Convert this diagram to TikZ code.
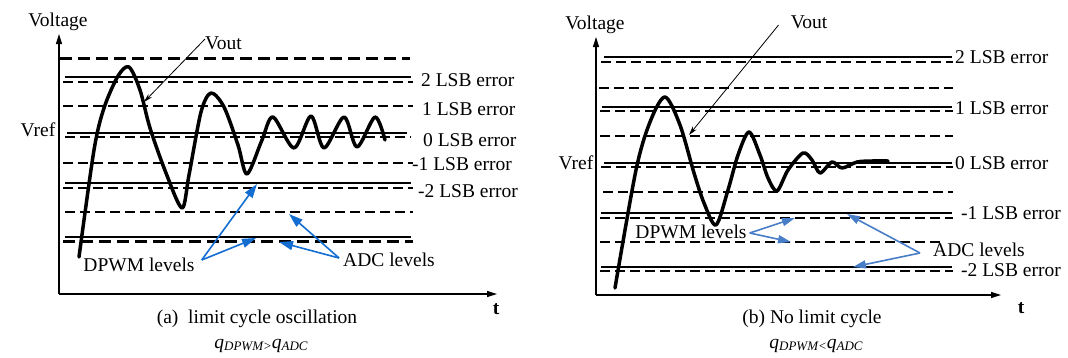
\documentclass[tikz,border=0pt]{standalone}
\usepackage{fontspec}
\setmainfont{Liberation Serif}
\usetikzlibrary{arrows.meta}
\definecolor{blueA}{RGB}{20,110,210}
\definecolor{blueB}{RGB}{72,125,200}
\tikzset{
  lbl/.style={inner sep=0pt, font=\fontsize{19.5}{22}\selectfont},
  sol/.style={line width=1.5pt},
  dsh/.style={line width=2pt, dash pattern=on 10pt off 5pt},
  dshthick/.style={line width=3pt, dash pattern=on 12pt off 6pt},
  axisline/.style={line width=1.2pt, -{Triangle[length=10pt,width=6pt]}},
  curve/.style={line width=3.5pt, line join=round, line cap=round},
  ptr/.style={line width=0.8pt, -{Stealth[length=9pt,width=5pt]}},
  barrowA/.style={blueA, line width=1.6pt, -{Triangle[length=14pt,width=9pt]}},
  barrowB/.style={blueB, line width=1.6pt, -{Triangle[length=13pt,width=8pt]}},
}
\begin{document}
\begin{tikzpicture}[x=1pt,y=-1pt]
\useasboundingbox (0,0) rectangle (1068,357);
% ================= LEFT PANEL =================
\coordinate (oA) at (59,294);
\coordinate (yA) at (59,34);
\coordinate (xA) at (497,294);
\draw[axisline] (oA) -- (yA);
\draw[axisline] (oA) -- (xA);
\node[lbl] (voltA) at (58,22) {Voltage};
\node[lbl, font=\fontsize{19.5}{22}\selectfont\bfseries] (tA) at (496,309) {t};
\node[lbl] (vrefA) at (38,130) {Vref};
% levels
\draw[dshthick] (60,58) -- (410,58);
\draw[sol] (65,77) -- (411,77);
\draw[dsh] (63,82) -- (413,82);
\draw[dsh] (63,106) -- (413,106);
\draw[sol] (67,133) -- (407,133);
\draw[dsh] (65,137) -- (411,137);
\draw[dsh] (63,163) -- (413,163);
\draw[sol] (65,183) -- (411,183);
\draw[dsh] (63,188) -- (413,188);
\draw[dsh] (65,212) -- (413,212);
\draw[sol] (65,237) -- (411,237);
\draw[dshthick] (63,241.5) -- (413,241.5);
% labels
\node[lbl, anchor=west] (e2A) at (421,80) {2 LSB error};
\node[lbl, anchor=west] (e1A) at (422,109) {1 LSB error};
\node[lbl, anchor=west] (e0A) at (423,140) {0 LSB error};
\node[lbl, anchor=west] (em1A) at (412,164) {-1 LSB error};
\node[lbl, anchor=west] (em2A) at (418,191) {-2 LSB error};
% curve
\draw[curve] plot[smooth, tension=0.5] coordinates {
 (79,257) (94,150) (104,108) (118,76) (129,67) (140,90) (150,128) (166,173) (182,208)
 (189,175) (201,112) (211,93) (224,107) (238,145) (247,174)
 (262,140) (273,117) (294,148) (311,116) (324,148) (344,117) (357,147) (375,117) (385,140)};
% Vout pointer
\node[lbl, anchor=west] (voutA) at (205,43) {Vout};
\coordinate (vpA) at (144,102);
\draw[ptr] (voutA.west) ++(0,-4) -- (vpA);
% blue arrows
\node[lbl] (dpwmA) at (139,265) {DPWM levels};
\node[lbl] (adcA) at (389,260) {ADC levels};
\coordinate (dA1) at (257,184);
\coordinate (dA2) at (256,238);
\coordinate (aA1) at (289,214);
\coordinate (aA2) at (279,242);
\draw[barrowA] (dpwmA.east) ++(7,-5) -- (dA1);
\draw[barrowA] (dpwmA.east) ++(7,-5) -- (dA2);
\draw[barrowA] (adcA.west) ++(-4,-2) -- (aA1);
\draw[barrowA] (adcA.west) ++(-4,-2) -- (aA2);
% captions
\node[lbl] (capA) at (257,319) {(a)\ \ limit cycle oscillation};
\node[lbl] (qA) at (261,346) {\itshape q\raisebox{-2pt}{\fontsize{13}{13}\selectfont DPWM>}q\raisebox{-2pt}{\fontsize{13}{13}\selectfont ADC}};
% ================= RIGHT PANEL =================
\coordinate (oB) at (596,295);
\coordinate (yB) at (596,37);
\coordinate (xB) at (1001,295);
\draw[axisline] (oB) -- (yB);
\draw[axisline] (oB) -- (xB);
\node[lbl] (voltB) at (595,25) {Voltage};
\node[lbl, font=\fontsize{19.5}{22}\selectfont\bfseries] (tB) at (1021,308) {t};
\node[lbl] (vrefB) at (576,163) {Vref};
% levels
\draw[sol] (604,57) -- (952,57);
\draw[dsh] (601,62) -- (953,62);
\draw[dsh] (599,88) -- (953,88);
\draw[sol] (602,107) -- (952,107);
\draw[dsh] (600,111) -- (953,111);
\draw[dsh] (600,136) -- (953,136);
\draw[sol] (604,163) -- (952,163);
\draw[dsh] (601,167) -- (953,167);
\draw[dsh] (603,192) -- (953,192);
\draw[sol] (601,213) -- (952,213);
\draw[dsh] (600,218) -- (953,218);
\draw[dsh] (600,242) -- (943,242);
\draw[sol] (601,267) -- (952,267);
\draw[dsh] (600,271) -- (953,271);
% labels
\node[lbl, anchor=west] (e2B) at (955,57) {2 LSB error};
\node[lbl, anchor=west] (e1B) at (955,108) {1 LSB error};
\node[lbl, anchor=west] (e0B) at (955,163) {0 LSB error};
\node[lbl, anchor=west] (em1B) at (961,213) {-1 LSB error};
\node[lbl, anchor=west] (em2B) at (961,270) {-2 LSB error};
% curve
\draw[curve] plot[smooth, tension=0.5] coordinates {
 (615,288) (636,170) (650,122) (665,97) (680,125) (694,173) (704,203) (716,225)
 (728,190) (738,155) (749,132) (760,155) (768,178) (777,191)
 (788,170) (803,153) (812,160) (820,173) (832,162) (842,168) (857,162) (872,161) (888,161)};
% Vout pointer
\node[lbl] (voutB) at (809,22) {Vout};
\coordinate (vpB) at (689,135);
\draw[ptr] (voutB.west) ++(-12,3) -- (vpB);
% blue arrows
\node[lbl] (dpwmB) at (691,232) {DPWM levels};
\node[lbl] (adcB) at (979,250) {ADC levels};
\coordinate (dB1) at (795,218);
\coordinate (dB2) at (791,242);
\coordinate (aB1) at (847,214);
\coordinate (aB2) at (853,267);
\draw[barrowB] (dpwmB.east) ++(3,1) -- (dB1);
\draw[barrowB] (dpwmB.east) ++(3,1) -- (dB2);
\draw[barrowB] (adcB.west) ++(-13,3) -- (aB1);
\draw[barrowB] (adcB.west) ++(-13,3) -- (aB2);
% captions
\node[lbl] (capB) at (812,319) {(b) No limit cycle};
\node[lbl] (qB) at (816,346) {\itshape q\raisebox{-2pt}{\fontsize{13}{13}\selectfont DPWM<}q\raisebox{-2pt}{\fontsize{13}{13}\selectfont ADC}};
\end{tikzpicture}
\end{document}
